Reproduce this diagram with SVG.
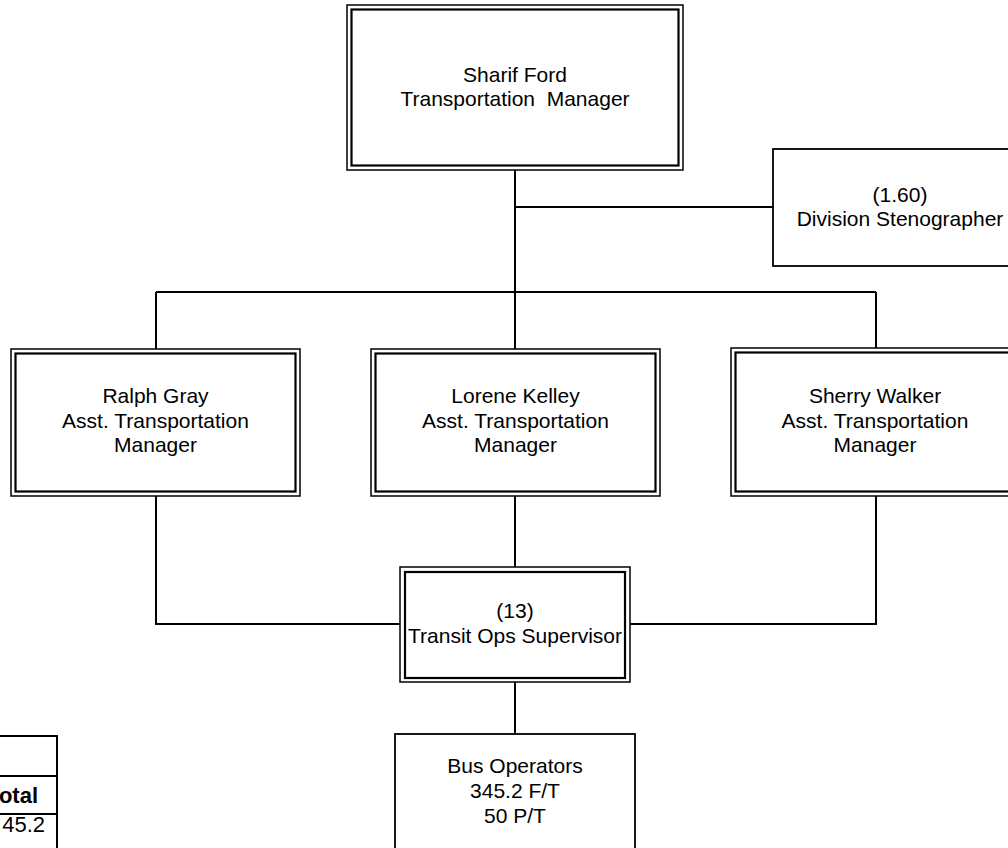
<svg xmlns="http://www.w3.org/2000/svg" width="1008" height="848" viewBox="0 0 1008 848">
<style>
.o{fill:none;stroke:#000;stroke-width:1.5}
.i{fill:none;stroke:#000;stroke-width:2.2}
.s{fill:#fff;stroke:#000;stroke-width:1.8}
.c{fill:none;stroke:#000;stroke-width:2}
text{font-family:"Liberation Sans",Arial,sans-serif;font-size:21px;fill:#000}
.m{text-anchor:middle}
.t{font-size:22px;text-anchor:end}
</style>
<rect width="1008" height="848" fill="#fff"/>
<g id="connectors">
<path class="c" d="M515,170 V349 M515,207 H773 M156,292 H876 M156,292 V349 M876,292 V348 M156,496 V624 H400 M876,496 V624 H630 M515,496 V567 M515,682 V734"/>
</g>
<g id="manager">
<rect class="o" x="347" y="5" width="336" height="165"/>
<rect class="i" x="351.5" y="9.5" width="327" height="156"/>
<text class="m" x="515" y="82">Sharif Ford</text>
<text class="m" x="515" y="106" xml:space="preserve">Transportation  Manager</text>
</g>
<g id="stenographer">
<rect class="s" x="773" y="149" width="260" height="117"/>
<text class="m" x="900" y="202">(1.60)</text>
<text class="m" x="900" y="226">Division Stenographer</text>
</g>
<g id="ralph">
<rect class="o" x="11" y="349" width="289" height="147"/>
<rect class="i" x="15.5" y="353.5" width="280" height="138"/>
<text class="m" x="155.5" y="403">Ralph Gray</text>
<text class="m" x="155.5" y="428">Asst. Transportation</text>
<text class="m" x="155.5" y="452">Manager</text>
</g>
<g id="lorene">
<rect class="o" x="371" y="349" width="289" height="147"/>
<rect class="i" x="375.5" y="353.5" width="280" height="138"/>
<text class="m" x="515.5" y="403">Lorene Kelley</text>
<text class="m" x="515.5" y="428">Asst. Transportation</text>
<text class="m" x="515.5" y="452">Manager</text>
</g>
<g id="sherry">
<rect class="o" x="731" y="348" width="289" height="148"/>
<rect class="i" x="735.5" y="352.5" width="280" height="139"/>
<text class="m" x="875" y="403">Sherry Walker</text>
<text class="m" x="875" y="428">Asst. Transportation</text>
<text class="m" x="875" y="452">Manager</text>
</g>
<g id="supervisor">
<rect class="o" x="400" y="567" width="230" height="115"/>
<rect class="i" x="405" y="572" width="220" height="106"/>
<text class="m" x="515" y="618">(13)</text>
<text class="m" x="515" y="643">Transit Ops Supervisor</text>
</g>
<g id="operators">
<rect class="s" x="395" y="734" width="240" height="130"/>
<text class="m" x="515" y="773">Bus Operators</text>
<text class="m" x="515" y="798">345.2 F/T</text>
<text class="m" x="515" y="823">50 P/T</text>
</g>
<g id="table">
<path class="c" d="M0,736 H57 M0,776 H57 M0,814 H57 M57,735 V848"/>
<text class="t" x="38" y="803" font-weight="bold">otal</text>
<text class="t" x="45" y="832">45.2</text>
</g>
</svg>
